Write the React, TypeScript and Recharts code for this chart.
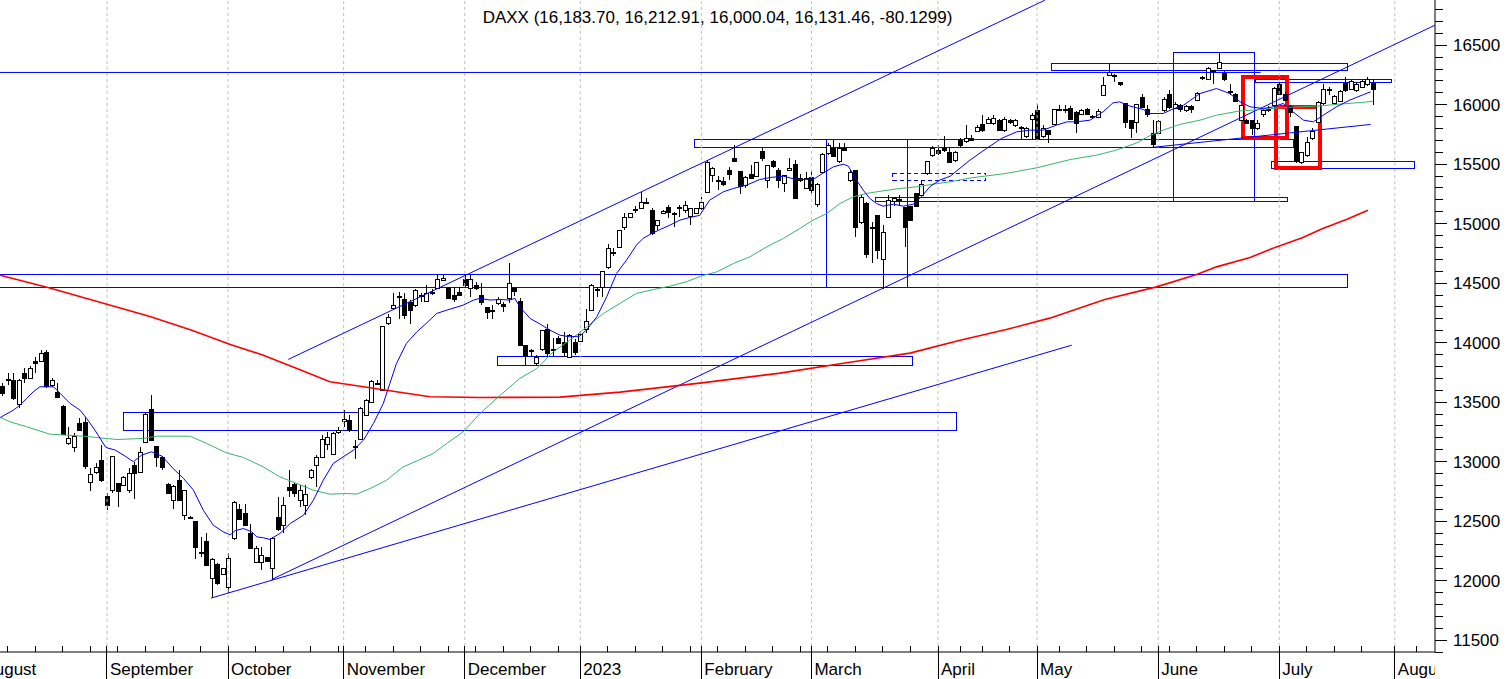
import React from 'react';
import { ComposedChart, Bar, Line, XAxis, YAxis, ReferenceLine, ReferenceArea } from 'recharts';

const W = 1506;
const H = 679;
const AXIS_W = 71;
const AXIS_H = 27;
const PLOT_RIGHT = W - AXIS_W;
const FONT = '"Liberation Sans", Arial, sans-serif';

const title = 'DAXX (16,183.70, 16,212.91, 16,000.04, 16,131.46, -80.1299)';

// trading-day index of the first candle (index 0 = 1 Aug 2022)
const firstIndex = 4;
const opens = [
  13635,13695,13690,13483,13746,13707,13847,13847,13923,13643,
  13587,13466,13153,13125,13321,13335,12830,12915,13013,12710,
  12761,12817,12803,12761,12971,12915,13167,13441,13130,13041,
  12811,12677,12845,12550,12530,12503,12240,12335,12018,12139,
  12055,11948,12354,12598,12570,12402,12158,12158,12195,12102,
  12536,12466,12788,12808,12676,12634,12867,12970,13040,13147,
  13068,13250,13340,13354,13130,13194,13390,13502,13665,13601,
  14166,14295,14390,14371,14343,14315,14400,14351,14420,14460,
  14530,14463,14399,14424,14539,14463,14484,14400,14301,14270,
  14330,14324,14372,14456,14352,13979,13940,13825,13943,14111,
  13940,14035,14004,13881,14004,14016,14111,14273,14455,14470,
  14638,14750,14806,14974,15058,15120,15128,15184,15114,14988,
  15091,15136,15090,15140,15119,15063,15086,15128,15268,15408,
  15370,15360,15450,15556,15444,15323,15416,15399,15609,15371,
  15525,15450,15343,15455,15500,15366,15296,15394,15164,15436,
  15595,15640,15528,15637,15371,15450,15016,15170,14975,15072,
  14707,15058,15190,15195,15142,15147,15254,15240,15427,15576,
  15618,15632,15604,15539,15707,15696,15724,15780,15836,15847,
  15847,15870,15786,15870,15828,15812,15735,15884,15954,15740,
  15786,15836,15965,15960,15976,15940,15920,15960,15905,15898,
  16080,16248,16250,16192,16016,15870,15856,16066,15968,15758,
  15758,15954,16088,15976,16001,15954,15990,16038,16225,16220,
  16290,16312,16268,16115,16088,15870,15870,15870,15800,15920,
  15960,15996,16178,16094,15990,15820,15520,15576,15716,15856,
  16015,16130,16015,16032,16184,16136,16122,16150,16172,16183.70,
];
const highs = [
  13660,13741,13741,13695,13791,13800,13881,13937,13937,13700,
  13657,13475,13293,13237,13363,13371,12943,12985,13139,12733,
  13050,12820,12880,12943,12999,13125,13410,13559,13135,13045,
  12820,12800,12929,12765,12540,12505,12368,12402,12190,12145,
  12110,12228,12670,12648,12648,12480,12290,12284,12200,12368,
  12704,12704,12928,12820,12802,12802,12940,13055,13222,13250,
  13250,13290,13438,13396,13186,13460,13530,13690,13685,14140,
  14245,14418,14427,14418,14357,14450,14420,14483,14450,14567,
  14567,14470,14469,14469,14581,14567,14510,14498,14301,14316,
  14386,14343,14671,14470,14375,13979,13950,13900,14105,14161,
  14035,14055,14091,14075,14030,14100,14287,14495,14470,14604,
  14828,14792,14951,15086,15091,15147,15268,15212,15128,15035,
  15114,15156,15100,15156,15192,15128,15128,15226,15534,15478,
  15400,15394,15478,15660,15444,15400,15492,15520,15637,15492,
  15535,15464,15408,15548,15534,15420,15436,15450,15340,15597,
  15674,15707,15680,15674,15450,15450,15240,15184,15016,15072,
  14988,15240,15226,15240,15142,15150,15260,15370,15530,15650,
  15660,15735,15632,15610,15716,15828,15745,15828,15912,15898,
  15912,15884,15898,15884,15884,15820,15814,15930,16010,15830,
  15790,15968,15996,15996,15987,15945,15960,15976,15912,15960,
  16230,16346,16262,16192,16016,15870,16010,16094,15996,15870,
  15870,16066,16122,16024,16010,16000,16000,16110,16240,16318,
  16295,16436,16280,16178,16100,16000,15880,15870,15870,15960,
  15990,16150,16184,16110,16000,15820,15604,15730,15800,16030,
  16178,16150,16080,16122,16234,16210,16190,16210,16234,16212.91,
];
const lows = [
  13555,13643,13517,13455,13657,13700,13741,13840,13615,13630,
  13531,13222,13139,13083,13255,12934,12755,12900,12830,12592,
  12733,12615,12795,12733,12682,12910,13160,13180,12957,12929,
  12730,12606,12670,12508,12520,12178,12200,12120,11850,11960,
  12050,11892,12345,12515,12460,12270,12150,12088,12160,12004,
  12420,12396,12704,12704,12620,12550,12850,12788,13030,13100,
  13060,13230,13293,13250,13018,13180,13380,13490,13640,13590,
  14150,14280,14203,14197,14155,14300,14340,14340,14400,14450,
  14520,14370,14343,14390,14470,14385,14440,14316,14203,14203,
  14320,14260,14330,14390,13970,13811,13880,13803,13930,13881,
  13881,13990,13881,13870,13900,14005,14077,14263,14386,14386,
  14620,14730,14800,14946,15050,15086,15120,15165,14904,14951,
  15080,15044,14974,15058,15086,14988,15080,15114,15268,15352,
  15282,15320,15366,15520,15248,15300,15380,15390,15530,15304,
  15470,15296,15268,15440,15210,15350,15290,15250,15140,15420,
  15580,15562,15510,15610,15350,14890,15000,14708,14671,14700,
  14455,15050,15150,15150,14806,15030,15140,15230,15410,15560,
  15580,15600,15506,15520,15640,15680,15700,15770,15770,15835,
  15830,15780,15770,15840,15815,15702,15720,15707,15720,15720,
  15674,15830,15950,15930,15880,15758,15910,15920,15895,15890,
  16070,16240,16192,16156,15800,15724,15764,15970,15900,15640,
  15750,15940,15960,15960,15940,15940,15930,16030,16210,16210,
  16178,16300,16200,16080,16020,15860,15840,15744,15790,15900,
  15940,15990,16090,16030,15900,15506,15500,15560,15700,15850,
  16000,16080,16000,16020,16110,16130,16110,16140,16160,16000.04,
];
const closes = [
  13573,13685,13531,13690,13699,13791,13825,13909,13634,13690,
  13545,13231,13195,13214,13265,12962,12892,12957,12845,12634,
  13046,12755,12873,12901,12901,13083,13399,13186,13035,12957,
  12738,12797,12677,12761,12533,12284,12230,12130,12184,11976,
  12102,12192,12663,12522,12466,12276,12270,12214,12166,12354,
  12430,12634,12760,12738,12760,12724,12928,13040,13194,13203,
  13242,13265,13355,13265,13120,13455,13522,13679,13650,14138,
  14217,14315,14380,14236,14273,14441,14390,14418,14428,14539,
  14545,14379,14363,14404,14483,14531,14456,14343,14260,14275,
  14363,14307,14498,14436,13979,13887,13937,13881,14105,13915,
  13945,13999,13923,14063,13923,14072,14184,14484,14445,14604,
  14792,14764,14951,15058,15086,15125,15184,15180,14918,15035,
  15108,15100,15086,15136,15156,15128,15128,15184,15520,15472,
  15362,15332,15416,15528,15315,15394,15388,15520,15548,15492,
  15483,15366,15408,15472,15220,15388,15380,15282,15332,15584,
  15660,15568,15632,15623,15436,14968,15226,14744,14968,14778,
  14932,15203,15212,15210,14968,15035,15147,15332,15525,15632,
  15590,15618,15520,15604,15660,15716,15707,15814,15786,15884,
  15892,15786,15884,15856,15870,15805,15800,15917,15724,15800,
  15752,15968,15968,15965,15884,15847,15954,15926,15900,15948,
  16164,16276,16240,16172,15856,15808,16010,15982,15920,15668,
  15864,16052,15982,16004,15968,15990,15962,16100,16232,16310,
  16280,16360,16212,16108,16032,15996,15850,15808,15850,15954,
  15964,16144,16094,16038,15938,15528,15604,15688,15780,16024,
  16136,16125,16072,16116,16122,16200,16178,16200,16220,16131.46,
];

// moving averages: [trading-day index, value]
const blueMa: [number, number][] = [
  [3.6,13371],[6.0,13433],[7.2,13475],[8.4,13531],[9.6,13587],[10.8,13629],[13.3,13629],[14.5,13573],
  [16.3,13489],[18.1,13433],[19.3,13363],[20.8,13265],[22.8,13119],[24.5,13097],[26.3,13046],[27.8,12999],
  [29.3,13055],[31.1,13083],[33.0,13046],[35.0,12943],[36.9,12859],[38.7,12761],[40.5,12592],[42.3,12466],
  [44.1,12410],[45.4,12385],[46.3,12420],[47.8,12438],[49.3,12410],[50.2,12368],[51.4,12360],[52.6,12346],
  [54.4,12396],[56.3,12480],[58.7,12550],[60.5,12676],[62.3,12844],[64.1,12984],[65.9,13040],[67.8,13097],
  [69.6,13180],[71.4,13320],[73.2,13488],[74.4,13657],[75.6,13825],[77.4,13993],[79.3,14091],[81.1,14166],
  [82.9,14245],[84.7,14273],[87.7,14315],[89.6,14358],[90.8,14372],[92.6,14358],[94.4,14363],[96.2,14358],
  [97.1,14372],[98.0,14301],[99.9,14203],[101.7,14156],[103.5,14105],[105.3,14063],[107.1,14049],[108.9,14055],
  [110.1,14105],[112.0,14217],[113.8,14386],[115.6,14582],[117.4,14694],[119.2,14820],[120.4,14876],[122.0,14918],
  [123.5,14951],[125.3,14988],[127.1,15030],[128.9,15052],[130.7,15070],[132.5,15198],[135.0,15268],[136.8,15296],
  [139.2,15324],[141.6,15371],[143.5,15388],[145.9,15399],[148.3,15371],[150.1,15371],[151.6,15380],[153.2,15427],
  [155.0,15478],[156.8,15500],[157.7,15483],[159.2,15366],[160.4,15282],[161.6,15212],[162.8,15170],[164.0,15147],
  [165.9,15164],[167.7,15147],[169.5,15164],[171.0,15226],[172.5,15310],[174.3,15366],[176.2,15399],[179.8,15534],
  [182.8,15632],[185.5,15716],[188.3,15772],[190.7,15786],[193.1,15786],[195.5,15828],[197.4,15856],[199.2,15856],
  [201.6,15870],[204.0,15940],[205.8,16016],[207.0,16024],[208.9,15988],[211.3,15960],[212.5,15926],[214.9,15926],
  [216.5,15960],[218.6,15996],[221.6,16094],[224.6,16136],[227.0,16094],[228.9,16024],[230.7,15982],[233.1,15968],
  [234.9,15982],[236.7,16010],[238.5,15940],[240.4,15870],[242.2,15856],[244.0,15912],[246.4,15982],[248.8,16038],
  [251.3,16085],[252.6,16108],
];
const greenMa: [number, number][] = [
  [3.6,13371],[5.4,13335],[8.4,13293],[12.6,13231],[18.7,13214],[24.8,13186],[29.6,13195],[32.0,13214],
  [38.1,13214],[41.1,13153],[44.7,13074],[47.8,13035],[51.4,12956],[54.4,12872],[57.5,12816],[60.5,12760],
  [63.5,12727],[66.5,12732],[68.4,12727],[70.8,12774],[73.8,12844],[76.8,12956],[79.9,13018],[82.3,13069],
  [84.7,13152],[87.7,13250],[90.8,13405],[94.5,13560],[98.0,13699],[101.1,13783],[104.1,13923],[107.1,14021],
  [110.2,14133],[113.2,14245],[116.2,14330],[119.2,14414],[122.3,14447],[125.3,14475],[128.3,14512],[131.3,14565],
  [133.8,14595],[136.8,14665],[139.8,14721],[142.9,14806],[145.9,14876],[148.9,14960],[151.3,15030],[153.8,15086],
  [156.2,15170],[158.6,15226],[161.0,15254],[164.0,15276],[167.1,15296],[170.1,15310],[173.1,15332],[176.2,15352],
  [180.0,15385],[186.0,15420],[192.0,15470],[198.0,15539],[202.8,15576],[206.4,15618],[210.1,15679],[212.5,15740],
  [214.9,15786],[218.0,15835],[221.6,15870],[224.6,15912],[228.9,15948],[232.5,15959],[236.4,15975],[239.8,15982],
  [243.4,15990],[247.0,16005],[250.7,16018],[253.0,16028],
];
const redMa: [number, number][] = [
  [3.6,14567],[12.6,14460],[21.7,14340],[30.8,14220],[38.4,14105],[45.4,13984],[51.4,13895],[57.5,13783],
  [63.5,13671],[69.6,13629],[75.6,13587],[81.7,13545],[90.8,13539],[105.3,13542],[116.2,13584],[130.7,13660],
  [145.3,13744],[158.0,13836],[168.9,13912],[178.0,14021],[186.4,14110],[194.3,14206],[204.3,14363],[213.7,14469],
  [221.0,14573],[224.6,14637],[230.7,14716],[235.5,14805],[240.3,14884],[243.9,14960],[248.2,15035],[252.1,15113],
];

const monthTicks = [0, 23, 45, 66, 88, 109, 131, 151, 174, 192, 214, 236, 257];
const monthLabels = ['August', 'September', 'October', 'November', 'December', '2023', 'February', 'March', 'April', 'May', 'June', 'July', 'August'];
const weekTicks = [5, 10, 15, 20, 25, 30, 35, 40, 50, 55, 60, 65, 70, 75, 80, 85, 90, 95, 100, 105, 114, 119, 124, 129, 134, 139, 144, 149, 154, 159, 164, 169, 178, 182, 187, 196, 201, 206, 211, 216, 221, 226, 231, 241, 246, 251, 261];
const yTicks = [
  11400, 11500, 11600, 11700, 11800, 11900, 12000, 12100, 12200, 12300, 12400, 12500, 12600, 12700, 12800, 12900,
  13000, 13100, 13200, 13300, 13400, 13500, 13600, 13700, 13800, 13900, 14000, 14100, 14200, 14300, 14400, 14500,
  14600, 14700, 14800, 14900, 15000, 15100, 15200, 15300, 15400, 15500, 15600, 15700, 15800, 15900, 16000, 16100,
  16200, 16300, 16400, 16500, 16600, 16700, 16800,
];
const xDomain: [number, number] = [3.56, 264.3];
const yDomain: [number, number] = [11400, 16880];

// drawn annotations (data coordinates)
const boxes = [
  { x1: 0, x2: 248.35, y1: 14573, y2: 14464, kind: 'blue' },
  { x1: 25.97, x2: 177.4, y1: 13413, y2: 13265, kind: 'blue' },
  { x1: 93.9, x2: 169.3, y1: 13881, y2: 13809, kind: 'blue' },
  { x1: 129.8, x2: 238.5, y1: 15708, y2: 15640, kind: 'blue' },
  { x1: 153.8, x2: 168.4, y1: 15708, y2: 14461, kind: 'blue' },
  { x1: 162.7, x2: 237.45, y1: 15220, y2: 15187, kind: 'blue' },
  { x1: 165.8, x2: 182.7, y1: 15422, y2: 15366, kind: 'dashed' },
  { x1: 194.7, x2: 248.35, y1: 16346, y2: 16290, kind: 'blue' },
  { x1: 216.7, x2: 231.5, y1: 16439, y2: 15189, kind: 'blue' },
  { x1: 231.6, x2: 256.4, y1: 16214, y2: 16187, kind: 'blue' },
  { x1: 234.6, x2: 260.5, y1: 15525, y2: 15464, kind: 'blue' },
  { x1: 229.45, x2: 237.45, y1: 16234, y2: 15721, kind: 'red' },
  { x1: 235.4, x2: 243.4, y1: 15977, y2: 15464, kind: 'red' },
];
const trendLines = [
  { from: [52.93, 12010], to: [264.28, 16668] },
  { from: [41.9, 11853], to: [198.3, 13979] },
  { from: [55.94, 13859], to: [193.4, 16878] },
  { from: [212.5, 15639], to: [252.6, 15834] },
  { from: [0, 16271], to: [232.6, 16271] },
];

const candles = opens.map((o, k) => ({ i: firstIndex + k, o, h: highs[k], l: lows[k], c: closes[k] }));
const toPts = (arr: [number, number][]) => arr.map(([i, v]) => ({ i, v }));

const CandleShape = (props: any) => {
  const { x, y, width, height, payload } = props;
  if (x == null || y == null || !payload) return null;
  const { o, h, l, c } = payload;
  const top = Math.min(y, y + height);
  const hh = Math.abs(height);
  const cx = Math.round(x + width / 2) + 0.5;
  const range = h - l;
  const py = (v: number) => (range === 0 ? top : top + ((h - v) / range) * hh);
  const bTop = py(Math.max(o, c));
  const bBot = py(Math.min(o, c));
  const up = c >= o;
  const bw = 3;
  return (
    <g shapeRendering="crispEdges">
      <line x1={cx} x2={cx} y1={top} y2={top + hh} stroke="#000" strokeWidth={1} />
      <rect x={cx - bw / 2 - 0.5} y={Math.round(bTop) + 0.5} width={bw + 1} height={Math.max(Math.round(bBot) - Math.round(bTop), 1)}
        fill={up ? '#fff' : '#000'} stroke="#000" strokeWidth={1} />
    </g>
  );
};

const XTick = (props: any) => {
  const { x, y, payload } = props;
  const v = payload?.value;
  const mi = monthTicks.indexOf(v);
  if (mi < 0) {
    return <line x1={x} x2={x} y1={y} y2={y - 6} stroke="#000" strokeWidth={1} shapeRendering="crispEdges" />;
  }
  const cid = 'xclip' + mi;
  return (
    <g>
      <defs>
        <clipPath id={cid}>
          <rect x={0} y={0} width={PLOT_RIGHT} height={H} />
        </clipPath>
      </defs>
      <line x1={x} x2={x} y1={y - 6} y2={H} stroke="#000" strokeWidth={1} shapeRendering="crispEdges" clipPath={`url(#${cid})`} />
      <text x={x + 3} y={y + 23} fontSize={17} fontFamily={FONT} fill="#000" textAnchor="start" clipPath={`url(#${cid})`}>
        {monthLabels[mi]}
      </text>
    </g>
  );
};

const YTick = (props: any) => {
  const { x, y, payload } = props;
  const v = payload?.value;
  const major = v % 500 === 0;
  return (
    <g>
      <line x1={x} x2={x + (major ? 12 : 8)} y1={y} y2={y} stroke="#000" strokeWidth={1} shapeRendering="crispEdges" />
      {major && (
        <text x={x + 18} y={y + 6} fontSize={17} fontFamily={FONT} fill="#000" textAnchor="start">
          {v}
        </text>
      )}
    </g>
  );
};

export default function App() {
  return (
    <div style={{ position: 'absolute', left: 0, top: 0, width: W, height: H, background: '#fff', overflow: 'hidden' }}>
      <ComposedChart width={W} height={H} data={candles} margin={{ top: 0, right: 0, bottom: 0, left: 0 }}>
        <XAxis dataKey="i" type="number" domain={xDomain} allowDataOverflow ticks={[...monthTicks, ...weekTicks].sort((a, b) => a - b)}
          interval={0} height={AXIS_H} tickSize={0} tickMargin={0} tickLine={false} axisLine={{ stroke: '#000' }}
          tick={(p: any) => <XTick {...p} />} />
        <YAxis orientation="right" type="number" domain={yDomain} allowDataOverflow ticks={yTicks} interval={0} width={AXIS_W}
          tickSize={0} tickMargin={0} tickLine={false} axisLine={{ stroke: '#000' }} tick={(p: any) => <YTick {...p} />} />
        {monthTicks.map((m) => (
          <ReferenceLine key={'g' + m} x={m} stroke="#c0c0c0" strokeDasharray="3 3" ifOverflow="hidden" />
        ))}
        {boxes.map((b, k) => (
          <ReferenceArea key={'b' + k} x1={b.x1} x2={b.x2} y1={b.y1} y2={b.y2} ifOverflow="visible"
            fill="none" fillOpacity={0}
            stroke={b.kind === 'red' ? '#ff0000' : '#0000ff'}
            strokeWidth={b.kind === 'red' ? 4 : 1}
            strokeDasharray={b.kind === 'dashed' ? '4 3' : undefined}
            shapeRendering="crispEdges" />
        ))}
        {trendLines.map((t, k) => (
          <ReferenceLine key={'t' + k} segment={[{ x: t.from[0], y: t.from[1] }, { x: t.to[0], y: t.to[1] }]}
            stroke="#0000ff" strokeWidth={1} ifOverflow="hidden" />
        ))}
        <Line data={toPts(redMa)} dataKey="v" type="linear" stroke="#ff0000" strokeWidth={1.6} dot={false} activeDot={false} isAnimationActive={false} />
        <Line data={toPts(greenMa)} dataKey="v" type="linear" stroke="#3cb371" strokeWidth={1} dot={false} activeDot={false} isAnimationActive={false} />
        <Line data={toPts(blueMa)} dataKey="v" type="linear" stroke="#0000ff" strokeWidth={1} dot={false} activeDot={false} isAnimationActive={false} />
        <Bar dataKey={(d: any) => [d.l, d.h]} barSize={5} isAnimationActive={false} shape={(p: any) => <CandleShape {...p} />} />
      </ComposedChart>
      <svg width={W} height={H} style={{ position: 'absolute', left: 0, top: 0, pointerEvents: 'none' }}>
        <text x={PLOT_RIGHT / 2} y={23} fontSize={17} fontFamily={FONT} fill="#000" textAnchor="middle">
          {title}
        </text>
      </svg>
    </div>
  );
}
